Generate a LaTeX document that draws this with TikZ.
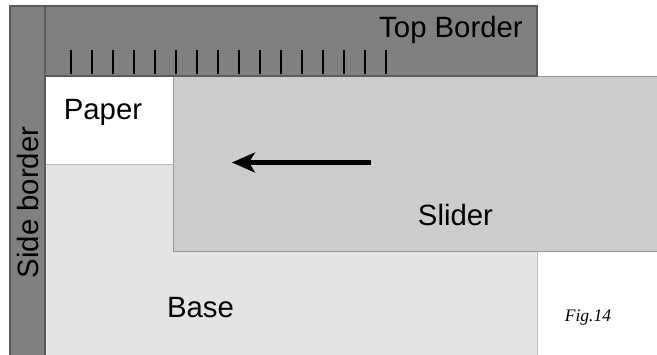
\documentclass[tikz,border=0pt]{standalone}
\usepackage{fontspec}
\setmainfont{Liberation Sans}
\newfontfamily\figfont{Liberation Serif}
\usetikzlibrary{arrows.meta}
\definecolor{bordergray}{HTML}{808080}
\definecolor{borderline}{HTML}{5A5A5A}
\definecolor{slidergray}{HTML}{CCCCCC}
\definecolor{sliderline}{HTML}{999999}
\definecolor{basegray}{HTML}{E4E4E4}
\definecolor{baseline}{HTML}{BBBBBB}
\tikzset{
  frame/.style={fill=bordergray, draw=borderline, line width=0.8pt},
  label/.style={font=\fontsize{16.7}{20}\selectfont, inner sep=0pt, anchor=base},
  tick/.style={line width=1.1pt},
}
\begin{document}
\begin{tikzpicture}[x=0.02cm, y=-0.02cm]
  \useasboundingbox (0,0) rectangle (657,355);
  \clip (0,0) rectangle (657,355);
  % base and paper
  \draw[fill=basegray, draw=baseline] (45,76) rectangle (537,370);
  \draw[fill=white, draw=baseline] (45,76) rectangle (173,164);
  % slider
  \draw[fill=slidergray, draw=sliderline] (173,76) rectangle (680,251);
  % borders
  \draw[frame] (10,6) rectangle (45,370);
  \draw[frame] (45,6) rectangle (537,76);
  \foreach \i in {0,...,15}
    \draw[tick] (71+21*\i,50) -- (71+21*\i,74);
  % labels
  \node[label] (top) at (451,37) {Top Border};
  \node[label] (paper) at (103,119) {Paper};
  \node[label] (slider) at (455.5,225) {Slider};
  \node[label] (base) at (200.5,317) {Base};
  \node[label, rotate=90] (side) at (38,202.5) {Side border};
  \node[font=\figfont\itshape\fontsize{10}{12}\selectfont] (fig) at (588,318) {Fig.14};
  % slide direction
  \coordinate (from) at (371,162.5);
  \coordinate (to) at (232,162.5);
  \draw[line width=2.3pt, -{Stealth[length=0.46cm, width=0.4cm, inset=0.12cm]}] (from) -- (to);
\end{tikzpicture}
\end{document}
